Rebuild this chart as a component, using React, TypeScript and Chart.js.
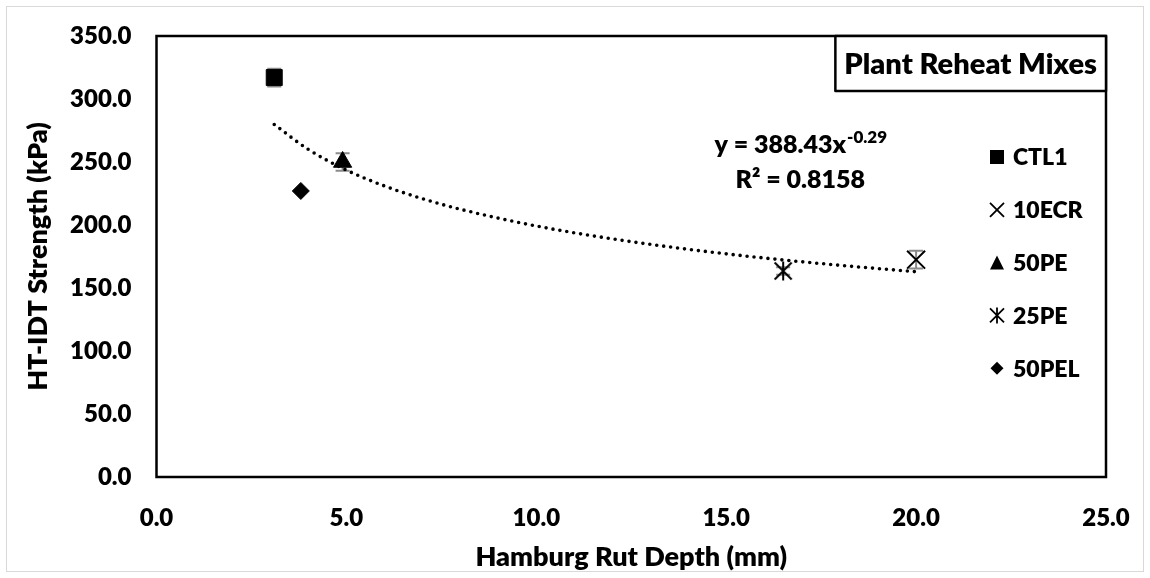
import React, { useEffect, useRef } from 'react';
import { Chart, registerables } from 'chart.js';

Chart.register(...registerables);

// ---------- data ----------
const seriesNames = ['CTL1', '10ECR', '50PE', '25PE', '50PEL'];
const rutDepth = [3.1, 20.0, 4.9, 16.5, 3.8];
const idtStrength = [317, 172.5, 250, 163.5, 227];
const idtError = [7, 7, 7, 3, 0];
const markerStyles = ['rect', 'crossRot', 'triangle', 'asterisk', 'rectRot'];

// power trendline
const trendX = [3.1, 4, 5, 6, 7, 8, 10, 12, 14, 16, 18, 20];
const trendY = [279.8, 259.9, 243.6, 231.0, 220.9, 212.5, 199.2, 189.0, 180.7, 173.8, 168.0, 162.9];

const xTicks = [0, 5, 10, 15, 20, 25];
const yTicks = [0, 50, 100, 150, 200, 250, 300, 350];

const chartTitle = 'Plant Reheat Mixes';
const xTitle = 'Hamburg Rut Depth (mm)';
const yTitle = 'HT-IDT Strength (kPa)';
const equationMain = 'y = 388.43x';
const equationExp = '-0.29';
const rSquaredText = 'R\u00B2 = 0.8158';

// ---------- styles ----------
const FONT = 'Lato, "Open Sans", "DejaVu Sans", sans-serif';
const W = 800;
const markerRadius = [11.3, 12.7, 10.5, 10, 8.5];

function makeAsterisk(size: number, lw: number): HTMLCanvasElement {
  const c = document.createElement('canvas');
  c.width = size;
  c.height = size;
  const g = c.getContext('2d')!;
  g.strokeStyle = '#000';
  g.lineWidth = lw;
  const m = 1.5;
  g.beginPath();
  g.moveTo(m, m);
  g.lineTo(size - m, size - m);
  g.moveTo(size - m, m);
  g.lineTo(m, size - m);
  g.moveTo(size / 2, 0.5);
  g.lineTo(size / 2, size - 0.5);
  g.stroke();
  return c;
}

function drawMarker(ctx: CanvasRenderingContext2D, style: string, x: number, y: number, s: number) {
  ctx.save();
  ctx.fillStyle = '#000';
  ctx.strokeStyle = '#000';
  ctx.lineWidth = 1.8;
  const h = s / 2;
  ctx.beginPath();
  switch (style) {
    case 'rect':
      ctx.rect(x - h, y - h, s, s);
      ctx.fill();
      break;
    case 'crossRot':
      ctx.moveTo(x - h, y - h);
      ctx.lineTo(x + h, y + h);
      ctx.moveTo(x + h, y - h);
      ctx.lineTo(x - h, y + h);
      ctx.stroke();
      break;
    case 'triangle':
      ctx.moveTo(x, y - h);
      ctx.lineTo(x + h, y + h);
      ctx.lineTo(x - h, y + h);
      ctx.closePath();
      ctx.fill();
      break;
    case 'asterisk':
      ctx.moveTo(x - h, y - h);
      ctx.lineTo(x + h, y + h);
      ctx.moveTo(x + h, y - h);
      ctx.lineTo(x - h, y + h);
      ctx.moveTo(x, y - h - 1);
      ctx.lineTo(x, y + h + 1);
      ctx.stroke();
      break;
    case 'rectRot':
      ctx.moveTo(x, y - h);
      ctx.lineTo(x + h, y);
      ctx.lineTo(x, y + h);
      ctx.lineTo(x - h, y);
      ctx.closePath();
      ctx.fill();
      break;
  }
  ctx.restore();
}

const errorBarPlugin = {
  id: 'errorBars',
  beforeDatasetsDraw(chart: any) {
    const ctx = chart.ctx;
    const yScale = chart.scales.y;
    ctx.save();
    ctx.strokeStyle = '#8a8a8a';
    ctx.lineWidth = 2;
    seriesNames.forEach((_, i) => {
      const err = idtError[i];
      if (!err) return;
      const meta = chart.getDatasetMeta(i);
      const pt = meta.data[0];
      if (!pt) return;
      const yTop = yScale.getPixelForValue(idtStrength[i] + err);
      const yBot = yScale.getPixelForValue(idtStrength[i] - err);
      const cw = 7;
      ctx.beginPath();
      ctx.moveTo(pt.x, yTop);
      ctx.lineTo(pt.x, yBot);
      ctx.moveTo(pt.x - cw, yTop);
      ctx.lineTo(pt.x + cw, yTop);
      ctx.moveTo(pt.x - cw, yBot);
      ctx.lineTo(pt.x + cw, yBot);
      ctx.stroke();
    });
    ctx.restore();
  },
};

const decorPlugin = {
  id: 'decor',
  afterDraw(chart: any) {
    const ctx: CanvasRenderingContext2D = chart.ctx;
    const a = chart.chartArea;
    const xs = chart.scales.x;
    const ys = chart.scales.y;
    ctx.save();

    // outer chart border
    ctx.strokeStyle = '#d9d9d9';
    ctx.lineWidth = 1;
    ctx.strokeRect(6.5, 6.5, chart.width - 13, chart.height - 13);

    // plot area frame
    ctx.strokeStyle = '#000';
    ctx.lineWidth = 2.5;
    ctx.strokeRect(a.left, a.top, a.right - a.left, a.bottom - a.top);

    // title box
    ctx.font = `${W} 29px ${FONT}`;
    const tw = ctx.measureText(chartTitle).width;
    const padX = 9;
    const bh = 55;
    const bx = a.right - tw - 2 * padX;
    const by = a.top;
    ctx.fillStyle = '#fff';
    ctx.fillRect(bx, by, a.right - bx, bh);
    ctx.lineJoin = 'round';
    ctx.strokeRect(bx, by, a.right - bx, bh);
    ctx.fillStyle = '#000';
    ctx.textBaseline = 'middle';
    ctx.textAlign = 'center';
    ctx.fillText(chartTitle, (bx + a.right) / 2, by + bh / 2 + 1);

    // trendline equation
    const eqCx = xs.getPixelForValue(16.95);
    const eqY1 = ys.getPixelForValue(257);
    const eqY2 = ys.getPixelForValue(229);
    ctx.textBaseline = 'alphabetic';
    ctx.textAlign = 'left';
    ctx.font = `${W} 25px ${FONT}`;
    const wMain = ctx.measureText(equationMain).width;
    ctx.font = `${W} 17px ${FONT}`;
    const wExp = ctx.measureText(equationExp).width;
    const sx = eqCx - (wMain + wExp) / 2;
    ctx.font = `${W} 25px ${FONT}`;
    ctx.fillText(equationMain, sx, eqY1);
    ctx.font = `${W} 17px ${FONT}`;
    ctx.fillText(equationExp, sx + wMain + 1, eqY1 - 10);
    ctx.font = `${W} 25px ${FONT}`;
    ctx.textAlign = 'center';
    ctx.fillText(rSquaredText, eqCx, eqY2);

    // legend
    const lx = a.right - 109;
    const ly0 = a.top + 121;
    const lstep = 52.8;
    ctx.font = `${W} 23px ${FONT}`;
    ctx.textAlign = 'left';
    ctx.textBaseline = 'middle';
    seriesNames.forEach((name, i) => {
      const y = ly0 + i * lstep;
      drawMarker(ctx, markerStyles[i], lx, y, i === 4 ? 13 : 14);
      ctx.fillStyle = '#000';
      ctx.fillText(name, lx + 16, y + 1);
    });

    ctx.restore();
  },
};

export default function App() {
  const ref = useRef<HTMLCanvasElement>(null);

  useEffect(() => {
    const canvas = ref.current;
    if (!canvas) return;
    const star = makeAsterisk(20, 2);

    const scatterSets = seriesNames.map((name, i) => ({
      type: 'scatter' as const,
      label: name,
      data: [{ x: rutDepth[i], y: idtStrength[i] }],
      pointStyle: markerStyles[i] === 'asterisk' ? star : markerStyles[i],
      pointRadius: markerRadius[i],
      pointHoverRadius: markerRadius[i],
      pointBackgroundColor: '#000',
      pointBorderColor: '#000',
      pointBorderWidth: markerStyles[i] === 'crossRot' ? 2 : 1,
      showLine: false,
    }));

    const trendSet = {
      type: 'line' as const,
      label: 'Power trend',
      data: trendX.map((x, j) => ({ x, y: trendY[j] })),
      borderColor: '#000',
      borderWidth: 3.6,
      borderDash: [0, 7],
      borderCapStyle: 'round' as const,
      pointRadius: 0,
      fill: false,
      cubicInterpolationMode: 'monotone' as const,
    };

    const tickFont = { family: FONT, size: 24, weight: W as any };
    const titleFont = { family: FONT, size: 27, weight: W as any, lineHeight: 1.2 };

    const chart = new Chart(canvas, {
      type: 'scatter',
      data: { datasets: [...scatterSets, trendSet] as any },
      options: {
        responsive: false,
        animation: false,
        events: [],
        layout: { padding: { top: 36, right: 44, left: 0, bottom: 0 } },
        plugins: {
          legend: { display: false },
          tooltip: { enabled: false },
          title: { display: false },
        },
        scales: {
          x: {
            type: 'linear',
            min: 0,
            max: 25,
            afterBuildTicks: (s: any) => {
              s.ticks = xTicks.map((v) => ({ value: v }));
            },
            afterFit: (s: any) => {
              s.height = 101;
              s.paddingLeft = 0;
              s.paddingRight = 0;
            },
            ticks: {
              font: tickFont,
              color: '#000',
              padding: 27,
              maxRotation: 0,
              autoSkip: false,
              callback: (v: any) => Number(v).toFixed(1),
            },
            grid: { display: false, drawTicks: false },
            border: { display: false },
            title: {
              display: true,
              text: xTitle,
              color: '#000',
              font: titleFont,
              padding: { top: 5, bottom: 5 },
            },
          },
          y: {
            type: 'linear',
            min: 0,
            max: 350,
            afterBuildTicks: (s: any) => {
              s.ticks = yTicks.map((v) => ({ value: v }));
            },
            afterFit: (s: any) => {
              s.width = 156.5;
              s.paddingTop = 0;
              s.paddingBottom = 0;
            },
            ticks: {
              font: tickFont,
              color: '#000',
              padding: 25,
              autoSkip: false,
              callback: (v: any) => Number(v).toFixed(1),
            },
            grid: { display: false, drawTicks: false },
            border: { display: false },
            title: {
              display: true,
              text: yTitle,
              color: '#000',
              font: titleFont,
              padding: { top: 22, bottom: 0 },
            },
          },
        },
      },
      plugins: [errorBarPlugin, decorPlugin],
    });

    return () => {
      chart.destroy();
    };
  }, []);

  return (
    <div style={{ position: 'absolute', left: 0, top: 0, width: 1150, height: 578, background: '#fff' }}>
      <canvas ref={ref} width={1150} height={578} style={{ display: 'block', width: 1150, height: 578 }} />
    </div>
  );
}
